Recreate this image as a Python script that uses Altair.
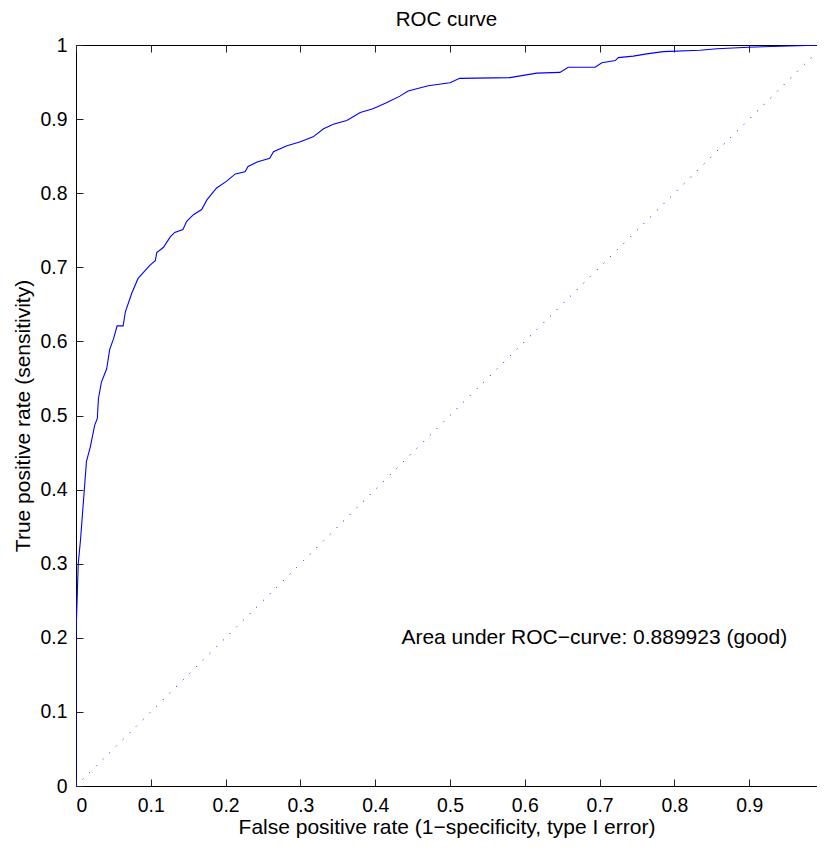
import altair as alt
import pandas as pd

# ROC curve points
fpr = [0, 0, 0.003, 0.006, 0.010, 0.014, 0.019, 0.025, 0.0285, 0.030,
       0.034, 0.041, 0.045, 0.050, 0.055, 0.063, 0.066, 0.0745, 0.083, 0.099,
       0.106, 0.108, 0.117, 0.126, 0.132, 0.143, 0.148, 0.157, 0.168, 0.175,
       0.188, 0.201, 0.213, 0.226, 0.230, 0.242, 0.259, 0.264, 0.282, 0.299,
       0.317, 0.331, 0.344, 0.362, 0.380, 0.397, 0.415, 0.433, 0.444, 0.471,
       0.500, 0.513, 0.580, 0.616, 0.647, 0.658, 0.694, 0.703, 0.721, 0.725,
       0.745, 0.763, 0.785, 0.834, 0.857, 0.899, 0.966, 1.0]
tpr = [0, 0.204, 0.300, 0.332, 0.385, 0.438, 0.457, 0.487, 0.496, 0.523,
       0.545, 0.563, 0.589, 0.603, 0.621, 0.621, 0.640, 0.665, 0.685, 0.703,
       0.709, 0.720, 0.727, 0.741, 0.747, 0.751, 0.762, 0.771, 0.778, 0.791,
       0.807, 0.816, 0.826, 0.829, 0.836, 0.842, 0.847, 0.856, 0.864, 0.869,
       0.876, 0.887, 0.893, 0.898, 0.909, 0.914, 0.922, 0.931, 0.938, 0.945,
       0.949, 0.955, 0.956, 0.962, 0.963, 0.970, 0.970, 0.976, 0.979, 0.983,
       0.985, 0.988, 0.991, 0.993, 0.995, 0.997, 0.999, 1.0]

diag_x = [0, 1]
diag_y = [0, 1]

x_tick_values = [0, 0.1, 0.2, 0.3, 0.4, 0.5, 0.6, 0.7, 0.8, 0.9]
y_tick_values = [0, 0.1, 0.2, 0.3, 0.4, 0.5, 0.6, 0.7, 0.8, 0.9, 1]

note_x = [0.435]
note_y = [0.2]
note_text = ["Area under ROC\u2212curve: 0.889923 (good)"]

FONT = "Liberation Sans"

roc_df = pd.DataFrame({"fpr": fpr, "tpr": tpr, "i": list(range(len(fpr)))})
diag_df = pd.DataFrame({"x": diag_x, "y": diag_y})
note_df = pd.DataFrame({"x": note_x, "y": note_y, "label": note_text})

# The reference's right edge (x = 1) lies just past the visible window,
# so the visible plot stops a little short of 1.
PLOT_W = 741
PLOT_H = 741
X_MAX = PLOT_W / 748.0

xscale = alt.Scale(domain=[0, X_MAX], nice=False, zero=False)
yscale = alt.Scale(domain=[0, 1], nice=False, zero=False)

tick_style = dict(
    format="~g", domain=False, grid=False,
    tickSize=7, offset=-7, tickColor="#222222", tickWidth=1,
    labelFont=FONT, labelFontSize=19.4, labelColor="black",
)
title_style = dict(
    titleFont=FONT, titleFontSize=21, titleColor="black",
    titleFontWeight="normal",
)

curve = alt.Chart(roc_df).mark_line(
    color="#0000ff", strokeWidth=1.1, clip=True
).encode(
    x=alt.X("fpr:Q", scale=xscale,
            axis=alt.Axis(orient="bottom", values=x_tick_values,
                          labelPadding=10, titlePadding=2,
                          title="False positive rate (1\u2212specificity, type I error)",
                          **tick_style, **title_style)),
    y=alt.Y("tpr:Q", scale=yscale,
            axis=alt.Axis(orient="left", values=y_tick_values,
                          labelPadding=9, titlePadding=7,
                          title="True positive rate (sensitivity)",
                          **tick_style, **title_style)),
    order=alt.Order("i:Q"),
)

diag = alt.Chart(diag_df).mark_line(
    color="#0000ff", strokeWidth=1, strokeDash=[1, 8.4], clip=True
).encode(
    x=alt.X("x:Q", scale=xscale,
            axis=alt.Axis(orient="top", values=x_tick_values, labels=False,
                          title=None, **tick_style)),
    y=alt.Y("y:Q", scale=yscale),
)

note = alt.Chart(note_df).mark_text(
    align="left", baseline="middle", font=FONT, fontSize=21, color="black"
).encode(
    x=alt.X("x:Q", scale=xscale, axis=None),
    y=alt.Y("y:Q", scale=yscale),
    text="label:N",
)

chart = alt.layer(curve, diag, note).resolve_axis(
    x="independent"
).properties(
    width=PLOT_W, height=PLOT_H,
    background="white",
    title=alt.TitleParams("ROC curve", font=FONT, fontSize=20.5, fontWeight="normal",
                          color="black", offset=5, anchor="middle"),
    autosize=alt.AutoSizeParams(type="none"),
    padding={"left": 68, "top": 37, "right": 0, "bottom": 52},
).configure_view(
    stroke="black", strokeWidth=1
)

chart.save("out.html", embed_options={"renderer": "svg", "actions": False})
